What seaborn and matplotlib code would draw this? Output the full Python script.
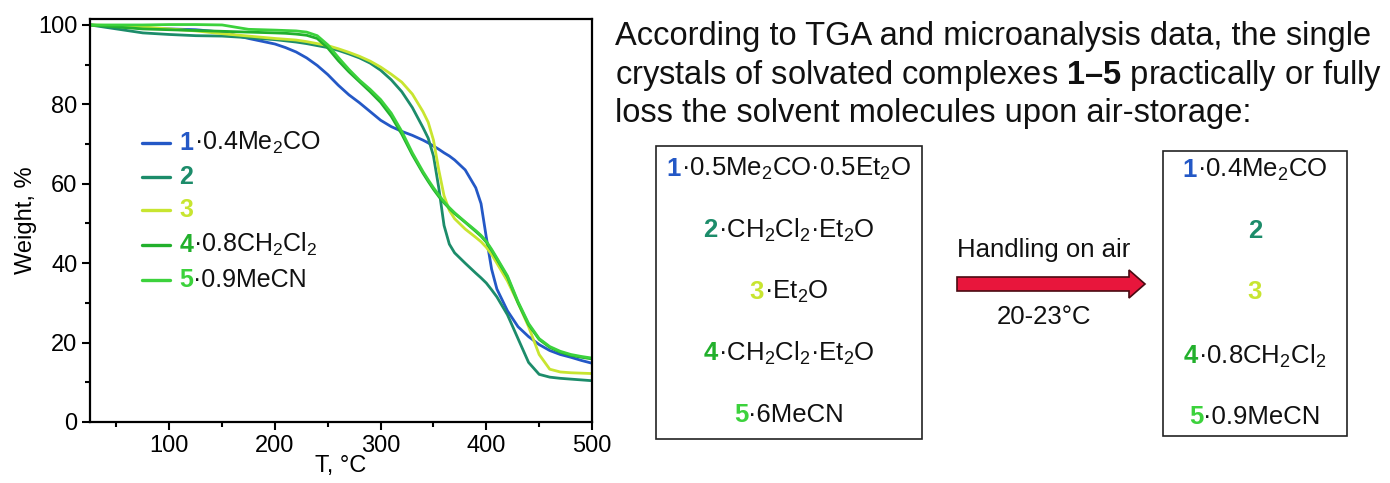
import numpy as np
import pandas as pd
import matplotlib
matplotlib.use("Agg")
import matplotlib.pyplot as plt
import seaborn as sns
from matplotlib.ticker import MultipleLocator
from matplotlib.offsetbox import TextArea, HPacker, VPacker, DrawingArea, AnnotationBbox
from matplotlib.lines import Line2D
from matplotlib.patches import Rectangle, FancyArrow

# TGA data
temp = [25, 50, 75, 100, 125, 150, 175, 200, 210, 220, 230, 240, 250, 260, 270, 280, 290,
        300, 310, 320, 330, 340, 345, 350, 355, 360, 365, 370, 380, 390, 395, 400, 405,
        410, 420, 430, 440, 450, 460, 470, 480, 490, 500]
w1 = [100, 99.6, 99.2, 99.0, 98.8, 98.2, 96.6, 95.2, 94.3, 93.2, 91.7, 89.8, 87.5, 84.8, 82.4,
      80.4, 78.2, 76.0, 74.4, 73.2, 72.2, 71.0, 70.3, 69.5, 68.7, 67.8, 67.0, 66.0, 63.5,
      59.0, 55.0, 46.5, 38.5, 33.5, 28.0, 24.0, 21.5, 19.5, 18.0, 17.0, 16.3, 15.5, 14.8]
w2 = [100, 99.0, 98.0, 97.6, 97.3, 97.2, 96.8, 96.3, 96.0, 95.7, 95.3, 94.8, 94.3, 93.6, 92.7,
      91.7, 90.4, 88.6, 86.2, 83.2, 79.2, 74.2, 71.5, 67.0, 59.0, 49.5, 44.8, 42.6, 40.0,
      37.5, 36.3, 35.0, 33.3, 31.5, 27.0, 21.0, 15.0, 12.0, 11.3, 11.0, 10.8, 10.6, 10.4]
w3 = [100, 99.8, 99.5, 99.0, 98.5, 97.8, 97.2, 96.6, 96.4, 96.2, 95.8, 95.3, 94.8, 94.0, 93.1,
      92.1, 90.9, 89.4, 87.6, 85.6, 82.6, 78.2, 75.5, 71.0, 63.5, 57.0, 53.3, 51.2, 48.6,
      46.5, 45.4, 44.0, 42.2, 40.0, 35.5, 30.0, 24.0, 17.0, 13.3, 12.6, 12.4, 12.3, 12.2]
w4 = [100, 99.5, 99.0, 98.8, 98.6, 98.4, 98.2, 98.0, 97.9, 97.7, 97.4, 96.6, 94.2, 91.0, 88.2,
      85.7, 83.2, 80.5, 77.0, 72.5, 67.3, 62.7, 60.6, 58.6, 56.8, 55.2, 53.8, 52.5, 50.3,
      48.0, 46.8, 45.3, 43.2, 41.0, 36.5, 30.0, 24.5, 20.8, 18.8, 17.6, 16.8, 16.3, 15.9]
w5 = [100, 100, 100, 100.1, 100.1, 100, 98.9, 98.7, 98.6, 98.5, 98.2, 97.3, 95.0, 91.8, 88.8,
      86.1, 83.8, 81.2, 77.8, 73.2, 67.8, 63.1, 61.0, 59.0, 57.2, 55.5, 54.0, 52.7, 50.4,
      48.2, 47.0, 45.5, 43.5, 41.3, 36.8, 30.3, 24.8, 21.0, 19.0, 17.8, 17.0, 16.5, 16.1]

samples = ["1", "2", "3", "4", "5"]
colors = ["#2458C6", "#1C8C6A", "#C8E530", "#22B02C", "#3CD23C"]
legend_rest = ["·0.4Me$_2$CO", "", "", "·0.8CH$_2$Cl$_2$", "·0.9MeCN"]
before_rest = ["·0.5Me$_2$CO·0.5Et$_2$O", "·CH$_2$Cl$_2$·Et$_2$O", "·Et$_2$O",
               "·CH$_2$Cl$_2$·Et$_2$O", "·6MeCN"]
after_rest = legend_rest

df = pd.DataFrame({"T": temp, "1": w1, "2": w2, "3": w3, "4": w4, "5": w5})
df = df.melt(id_vars="T", var_name="sample", value_name="weight")

sns.set_theme(style="ticks")
plt.rcParams["font.family"] = ["Liberation Sans", "DejaVu Sans"]
plt.rcParams["mathtext.fontset"] = "custom"
plt.rcParams["mathtext.rm"] = "Liberation Sans"
plt.rcParams["mathtext.bf"] = "Liberation Sans:bold"
plt.rcParams["mathtext.it"] = "Liberation Sans:italic"
plt.rcParams["mathtext.default"] = "regular"

fig = plt.figure(figsize=(13.9, 4.83), dpi=100)
ax = fig.add_axes([90 / 1390, 61 / 483, 502 / 1390, 403 / 483])
sns.lineplot(data=df, x="T", y="weight", hue="sample", hue_order=samples,
             palette=colors, estimator=None, sort=False, legend=False,
             linewidth=2.0, ax=ax)
ax.set_xlim(25, 500)
ax.set_ylim(0, 101.5)
ax.xaxis.set_major_locator(MultipleLocator(100))
ax.xaxis.set_minor_locator(MultipleLocator(50))
ax.yaxis.set_major_locator(MultipleLocator(20))
ax.yaxis.set_minor_locator(MultipleLocator(10))
ax.tick_params(which="major", direction="out", length=6, width=1.5, labelsize=17, pad=3,
               colors="black")
ax.tick_params(which="minor", direction="out", length=3.5, width=1.5, colors="black")
for sp in ax.spines.values():
    sp.set_linewidth(1.6)
    sp.set_color("black")
ax.set_xlabel("T, °C", fontsize=17, labelpad=-1, color="black")
ax.set_ylabel("Weight, %", fontsize=17, labelpad=1, color="black")

# overlay in pixel coordinates for legend and scheme
ov = fig.add_axes([0, 0, 1, 1])
ov.set_xlim(0, 1390)
ov.set_ylim(483, 0)
ov.axis("off")


def label_row(num, rest, col, size):
    parts = [TextArea(num, textprops=dict(color=col, fontweight="bold", fontsize=size))]
    if rest:
        parts.append(TextArea(rest, textprops=dict(color="#111111", fontsize=size)))
    return HPacker(children=parts, align="baseline", pad=0, sep=0)


rows = []
for num, rest, col in zip(samples, legend_rest, colors):
    da = DrawingArea(20, 10, 0, 0)
    da.add_artist(Line2D([0, 20], [5, 5], color=col, lw=2.4))
    rows.append(HPacker(children=[da, label_row(num, rest, col, 18)],
                        align="center", pad=0, sep=7))
leg = VPacker(children=rows, align="left", pad=0, sep=6.5)
ov.add_artist(AnnotationBbox(leg, (142, 130), xycoords="data", box_alignment=(0, 1),
                             frameon=False, pad=0))

# paragraph
para = ["According to TGA and microanalysis data, the single",
        "crystals of solvated complexes $\\mathbf{1–5}$ practically or fully",
        "loss the solvent molecules upon air-storage:"]
for line, yb in zip(para, [45, 84, 122]):
    ov.text(615, yb, line, fontsize=23.5, ha="left", va="baseline", color="#111111")

# boxes
ov.add_patch(Rectangle((656, 146), 266, 293, fill=False, lw=1.2, ec="#222222"))
ov.add_patch(Rectangle((1163, 151), 184, 285, fill=False, lw=1.2, ec="#222222"))
for num, rest, col, yc in zip(samples, before_rest, colors, [169, 230, 292, 353, 415]):
    ov.add_artist(AnnotationBbox(label_row(num, rest, col, 18.5), (789, yc),
                                 box_alignment=(0.5, 0.5), frameon=False, pad=0))
for num, rest, col, yc in zip(samples, after_rest, colors, [170, 231, 292, 356, 417]):
    ov.add_artist(AnnotationBbox(label_row(num, rest, col, 18.5), (1255, yc),
                                 box_alignment=(0.5, 0.5), frameon=False, pad=0))

ov.add_patch(FancyArrow(957, 284, 188, 0, width=14, head_width=28, head_length=16,
                        length_includes_head=True, fc="#E8163C", ec="#4a0a12", lw=1.2))
ov.text(1044, 250, "Handling on air", fontsize=18.5, ha="center", va="center", color="#111111")
ov.text(1044, 317, "20-23°C", fontsize=18.5, ha="center", va="center", color="#111111")

fig.savefig("out.png", dpi=100)
